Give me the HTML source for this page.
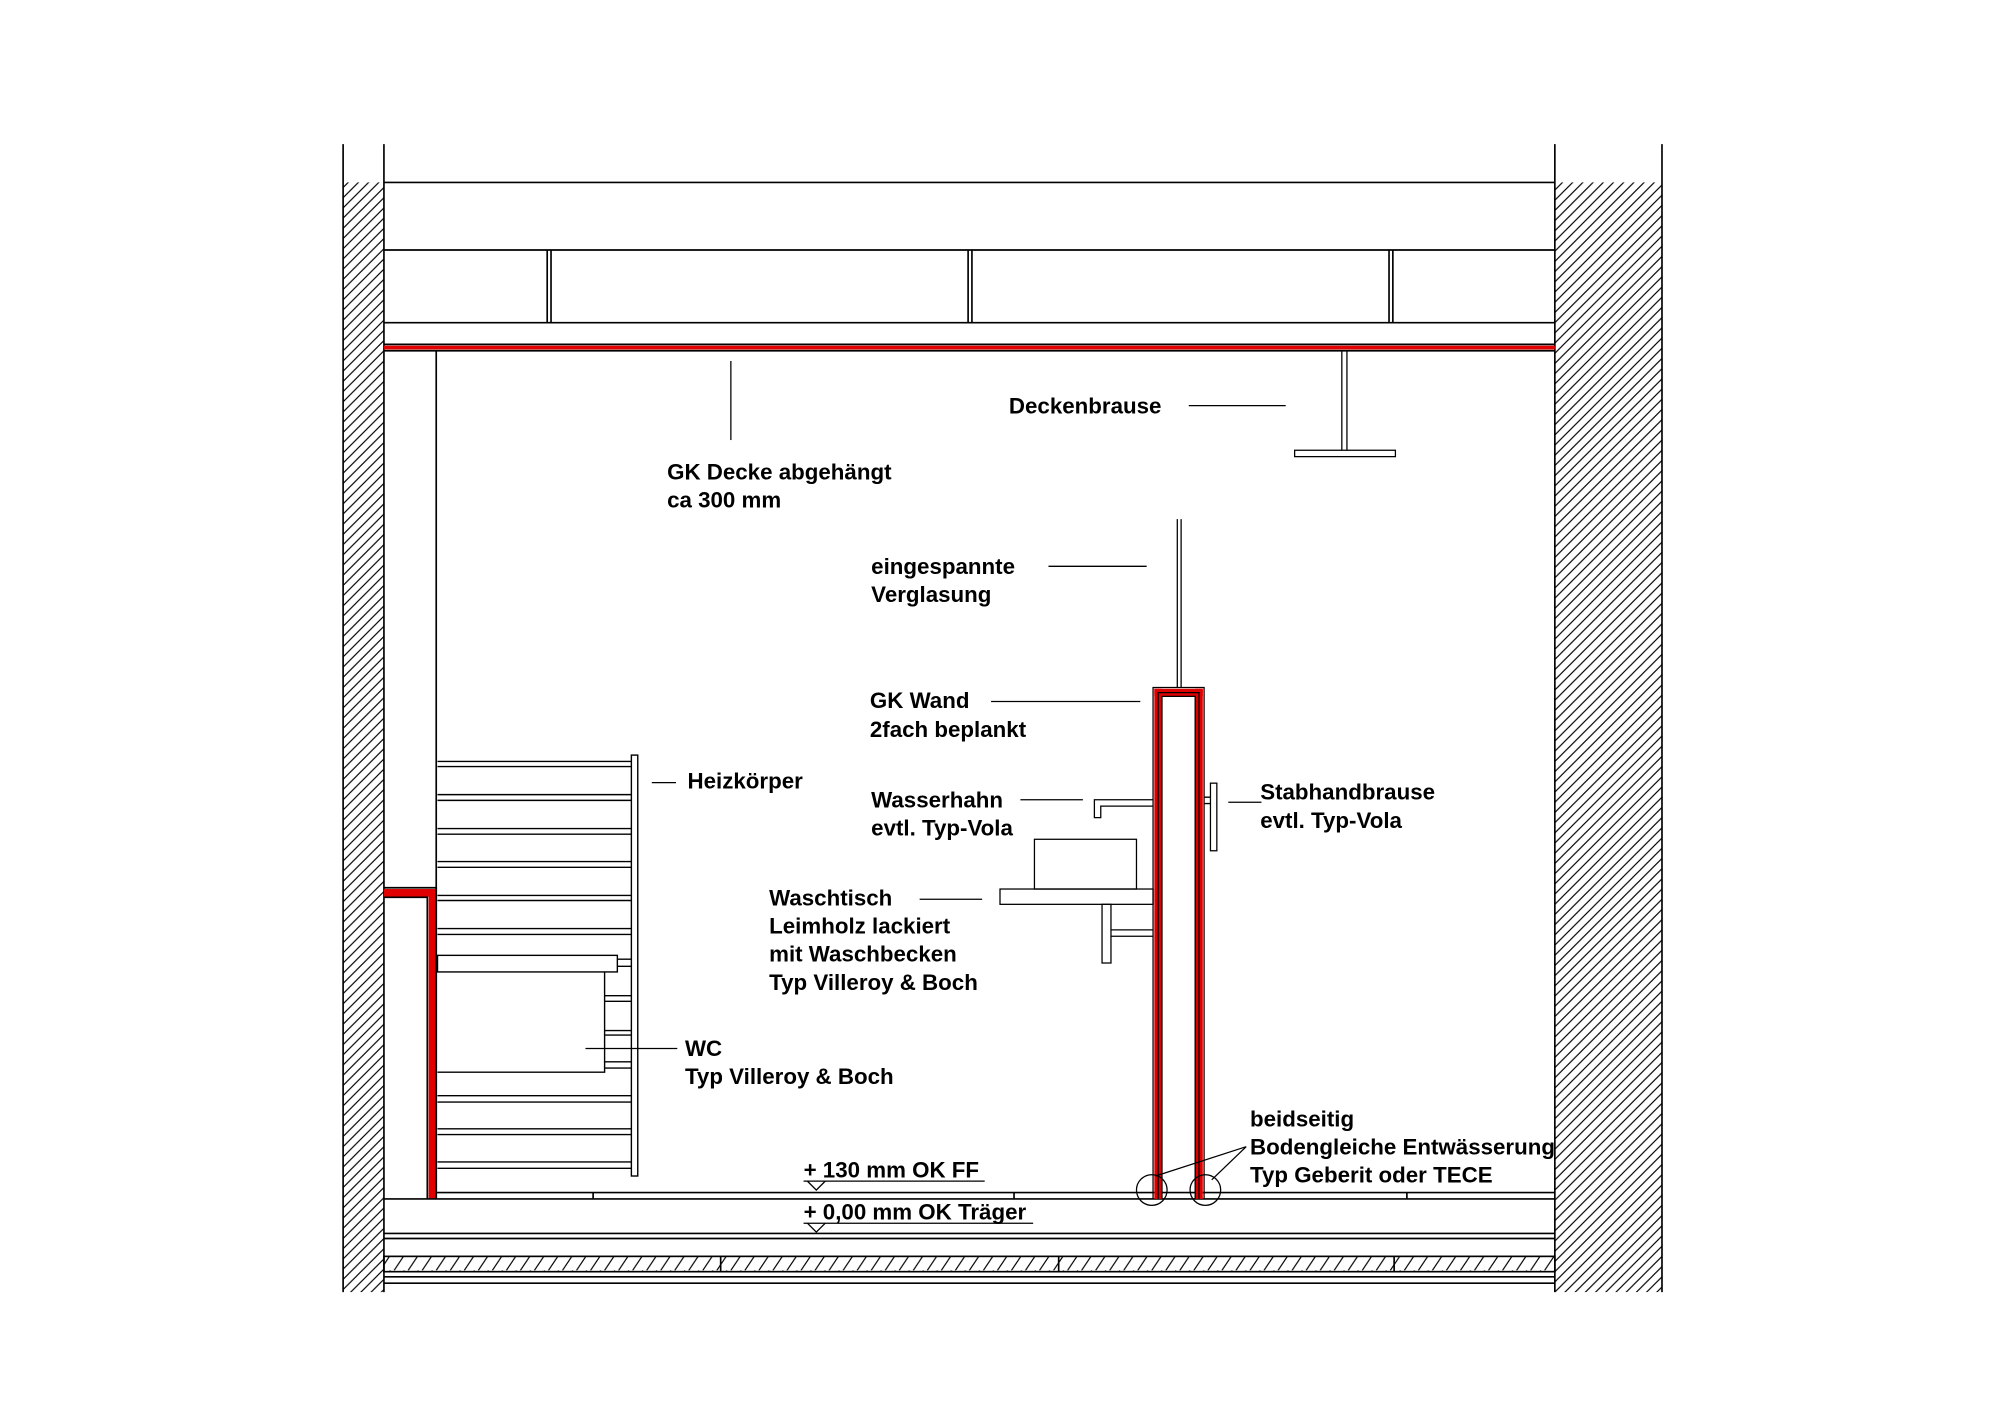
<!DOCTYPE html>
<html><head><meta charset="utf-8"><style>
html,body{margin:0;padding:0;background:#fff;}
svg{display:block;}
text{font-family:"Liberation Sans",Arial,sans-serif;font-weight:bold;font-size:17.5px;fill:#000;}
</style></head><body>
<svg width="2000" height="1413" viewBox="0 0 1568 1107.8" xmlns="http://www.w3.org/2000/svg">
<defs>
<pattern id="h" patternUnits="userSpaceOnUse" width="8" height="8">
<path d="M-2,10 L10,-2 M-2,2 L2,-2 M6,10 L10,6" stroke="#000" stroke-width="0.9"/>
</pattern>
<pattern id="f" patternUnits="userSpaceOnUse" width="11" height="12">
<path d="M1,12 L9,0" stroke="#000" stroke-width="0.9"/>
</pattern>
</defs>
<rect width="1568" height="1107.8" fill="#fff"/>
<g stroke="#000" stroke-width="1.3" fill="none">
<rect x="269" y="143" width="32" height="870" fill="url(#h)" stroke="none"/>
<rect x="1219" y="143" width="84" height="870" fill="url(#h)" stroke="none"/>
<line x1="269" y1="113" x2="269" y2="1013"/>
<line x1="301" y1="113" x2="301" y2="1013"/>
<line x1="1219" y1="113" x2="1219" y2="1013"/>
<line x1="1303" y1="113" x2="1303" y2="1013"/>
<line x1="301" y1="143" x2="1219" y2="143"/>
<line x1="301" y1="196" x2="1219" y2="196"/>
<line x1="301" y1="253" x2="1219" y2="253"/>
<line x1="429" y1="196" x2="429" y2="253"/><line x1="432" y1="196" x2="432" y2="253"/>
<line x1="759" y1="196" x2="759" y2="253"/><line x1="762" y1="196" x2="762" y2="253"/>
<line x1="1089" y1="196" x2="1089" y2="253"/><line x1="1092" y1="196" x2="1092" y2="253"/>
<line x1="301" y1="270" x2="1219" y2="270"/>
<line x1="301" y1="275" x2="1219" y2="275"/>
<rect x="301" y="271" width="918" height="3" fill="#e00000" stroke="none"/>
<line x1="342" y1="275" x2="342" y2="940"/>
<rect x="301" y="697" width="41" height="6" fill="#e00000" stroke="none"/>
<rect x="336" y="697" width="6" height="243" fill="#e00000" stroke="none"/>
<path d="M301,696 H342 M301,703.5 H335 V940 M342,696 V940"/>
<rect x="495" y="592" width="5" height="330" stroke-width="1.1"/>
<g stroke-width="1.1">
<path d="M343,597H495M343,601H495M343,623H495M343,627.5H495M343,649.6H495M343,654H495M343,675.5H495M343,680H495M343,702H495M343,706H495M343,728H495M343,732.6H495M343,859H495M343,864H495M343,885H495M343,889.5H495M343,911H495M343,916H495"/>
<rect x="343" y="749" width="141" height="13"/>
<path d="M343,840.6H474V762"/>
<path d="M484,752H495M484,757.6H495M474,780.6H495M474,785H495M474,808H495M474,811.5H495M474,832.5H495M474,837.4H495"/>
</g>
<line x1="511" y1="613.6" x2="530" y2="613.6" stroke-width="1"/>
<line x1="459" y1="822" x2="531" y2="822" stroke-width="1"/>
<line x1="342" y1="935" x2="1219" y2="935"/>
<line x1="301" y1="940" x2="1219" y2="940"/>
<path d="M465,935V940M795,935V940M1103,935V940"/>
<line x1="301" y1="967" x2="1219" y2="967"/>
<line x1="301" y1="971" x2="1219" y2="971"/>
<rect x="301" y="985" width="918" height="12" fill="url(#f)"/>
<path d="M565,985V997M830,985V997M1093,985V997"/>
<line x1="301" y1="1001" x2="1219" y2="1001"/>
<line x1="301" y1="1006" x2="1219" y2="1006"/>
<line x1="630" y1="926" x2="772" y2="926" stroke-width="1"/>
<path d="M633,926 L640,933 L647,926" stroke-width="1"/>
<line x1="630" y1="959" x2="810" y2="959" stroke-width="1"/>
<path d="M633,959 L640,966 L647,959" stroke-width="1"/>
<rect x="905" y="540" width="6" height="400" fill="#e00000" stroke="none"/>
<rect x="937" y="540" width="6" height="400" fill="#e00000" stroke="none"/>
<rect x="905" y="540" width="38" height="6" fill="#e00000" stroke="none"/>
<path d="M904,940V539H944V940M911,940V546H937V940M908,940V543H940V940" stroke-width="1"/>
<line x1="923" y1="407" x2="923" y2="539" stroke-width="1"/>
<line x1="926" y1="407" x2="926" y2="539" stroke-width="1"/>
<line x1="1052" y1="275" x2="1052" y2="353" stroke-width="1"/>
<line x1="1056" y1="275" x2="1056" y2="353" stroke-width="1"/>
<rect x="1015" y="353" width="79" height="5" stroke-width="1"/>
<path d="M904,627H858V641H863V632H904" stroke-width="1"/>
<path d="M944,625H949M944,630H949" stroke-width="1"/>
<rect x="949" y="614" width="5" height="53" stroke-width="1"/>
<rect x="811" y="658" width="80" height="39" stroke-width="1"/>
<rect x="784" y="697" width="120" height="12" stroke-width="1"/>
<rect x="864" y="709" width="7" height="46" stroke-width="1"/>
<path d="M871,729H904M871,734H904" stroke-width="1"/>
<circle cx="903" cy="933" r="12" stroke-width="1"/>
<circle cx="945" cy="933" r="12" stroke-width="1"/>
<path d="M906,922 L977,899 L950,925" stroke-width="1"/>
<g stroke-width="1">
<line x1="573" y1="283" x2="573" y2="345"/>
<line x1="932" y1="318" x2="1008" y2="318"/>
<line x1="822" y1="444" x2="899" y2="444"/>
<line x1="777" y1="550" x2="894" y2="550"/>
<line x1="800" y1="627" x2="849" y2="627"/>
<line x1="963" y1="629" x2="989" y2="629"/>
<line x1="721" y1="705" x2="770" y2="705"/>
</g>
</g>
<text x="791" y="324">Deckenbrause</text>
<text x="523" y="376">GK Decke abgehängt</text>
<text x="523" y="398">ca 300 mm</text>
<text x="683" y="450">eingespannte</text>
<text x="683" y="472">Verglasung</text>
<text x="682" y="555">GK Wand</text>
<text x="682" y="578">2fach beplankt</text>
<text x="539" y="618">Heizkörper</text>
<text x="683" y="633">Wasserhahn</text>
<text x="683" y="655">evtl. Typ-Vola</text>
<text x="988" y="627">Stabhandbrause</text>
<text x="988" y="649">evtl. Typ-Vola</text>
<text x="603" y="710">Waschtisch</text>
<text x="603" y="732">Leimholz lackiert</text>
<text x="603" y="754">mit Waschbecken</text>
<text x="603" y="776">Typ Villeroy &amp; Boch</text>
<text x="537" y="828">WC</text>
<text x="537" y="850">Typ Villeroy &amp; Boch</text>
<text x="980" y="883">beidseitig</text>
<text x="980" y="905">Bodengleiche Entwässerung</text>
<text x="980" y="927">Typ Geberit oder TECE</text>
<text x="630" y="923">+ 130 mm OK FF</text>
<text x="630" y="956">+ 0,00 mm OK Träger</text>
</svg>
</body></html>
